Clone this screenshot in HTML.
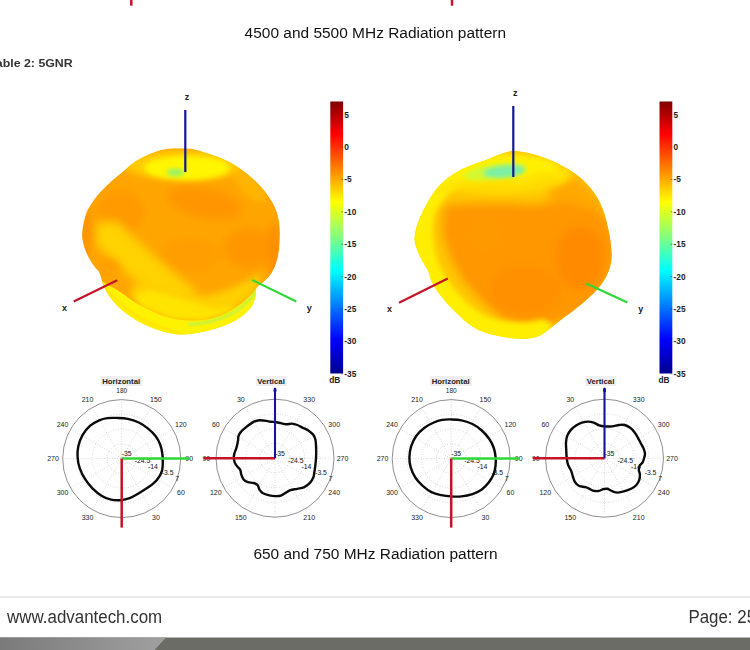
<!DOCTYPE html>
<html><head><meta charset="utf-8"><style>
html,body{margin:0;padding:0;background:#fff;}
body{width:750px;height:650px;overflow:hidden;position:relative;font-family:"Liberation Sans",sans-serif;}
.t{position:absolute;white-space:nowrap;}
svg{position:absolute;left:0;top:0;}
svg text{font-family:"Liberation Sans",sans-serif;}
</style></head><body>
<svg width="750" height="650" viewBox="0 0 750 650">
<defs><linearGradient id="jet" x1="0" y1="0" x2="0" y2="1"><stop offset="0.000" stop-color="#800000"/><stop offset="0.120" stop-color="#ff0000"/><stop offset="0.370" stop-color="#ffff00"/><stop offset="0.500" stop-color="#80ff80"/><stop offset="0.620" stop-color="#00ffff"/><stop offset="0.875" stop-color="#0000ff"/><stop offset="1.000" stop-color="#00008f"/></linearGradient><filter id="b1" x="-30%" y="-30%" width="160%" height="160%"><feGaussianBlur stdDeviation="0.625"/></filter><filter id="b2" x="-30%" y="-30%" width="160%" height="160%"><feGaussianBlur stdDeviation="1.25"/></filter><filter id="b3" x="-30%" y="-30%" width="160%" height="160%"><feGaussianBlur stdDeviation="1.875"/></filter><filter id="b4" x="-30%" y="-30%" width="160%" height="160%"><feGaussianBlur stdDeviation="2.5"/></filter><filter id="b6" x="-30%" y="-30%" width="160%" height="160%"><feGaussianBlur stdDeviation="3.75"/></filter><filter id="b8" x="-30%" y="-30%" width="160%" height="160%"><feGaussianBlur stdDeviation="5.0"/></filter></defs><clipPath id="cL"><path d="M184.5 148.3 C188.7 148.5 190.6 148.5 194.8 149.4 C199.0 150.3 204.6 152.3 209.5 154.0 C214.4 155.7 219.4 157.2 224.3 159.5 C229.2 161.8 234.4 164.7 239.0 167.8 C243.6 170.9 248.0 174.5 252.0 178.0 C256.0 181.5 259.6 185.0 263.0 189.0 C266.4 193.0 269.8 197.7 272.3 202.0 C274.8 206.3 276.6 210.7 277.8 215.0 C279.0 219.3 279.4 223.1 279.7 227.8 C280.0 232.5 279.8 238.3 279.5 243.0 C279.2 247.7 278.8 251.9 278.0 255.8 C277.2 259.7 276.2 263.2 274.8 266.6 C273.4 270.0 271.4 273.6 269.4 276.3 C267.4 279.0 265.0 280.8 262.9 282.8 C260.8 284.8 257.8 285.9 256.5 288.2 C255.2 290.5 256.1 293.9 255.4 296.8 C254.7 299.7 254.0 302.5 252.2 305.4 C250.4 308.3 248.0 311.1 244.6 314.0 C241.2 316.9 236.7 320.1 231.7 322.6 C226.7 325.1 220.2 327.3 214.5 329.0 C208.8 330.7 202.9 332.1 197.2 333.0 C191.4 333.9 185.9 334.8 180.0 334.5 C174.1 334.2 167.9 332.8 162.0 331.2 C156.1 329.6 150.2 327.3 144.8 324.8 C139.4 322.3 134.4 319.2 129.7 316.0 C125.0 312.8 120.4 309.0 116.8 305.4 C113.2 301.8 110.5 298.2 108.2 294.6 C105.9 291.0 104.2 287.4 102.8 283.8 C101.3 280.2 100.9 275.9 99.5 273.0 C98.1 270.1 96.2 269.5 94.2 266.6 C92.2 263.7 89.5 259.7 87.7 255.8 C85.9 251.9 84.1 247.0 83.2 243.0 C82.3 239.0 81.9 236.7 82.3 232.0 C82.7 227.3 84.2 219.6 85.7 214.9 C87.2 210.2 88.9 207.5 91.2 203.8 C93.5 200.1 96.3 196.5 99.5 192.8 C102.7 189.1 106.9 185.1 110.6 181.7 C114.3 178.3 118.0 175.6 121.7 172.5 C125.4 169.4 129.1 165.8 132.8 163.2 C136.5 160.6 139.8 158.8 143.8 156.8 C147.8 154.8 152.5 152.6 156.8 151.2 C161.1 149.8 165.1 149.0 169.7 148.5 C174.3 148.0 180.3 148.2 184.5 148.3Z"/></clipPath><g clip-path="url(#cL)"><path d="M184.5 148.3 C188.7 148.5 190.6 148.5 194.8 149.4 C199.0 150.3 204.6 152.3 209.5 154.0 C214.4 155.7 219.4 157.2 224.3 159.5 C229.2 161.8 234.4 164.7 239.0 167.8 C243.6 170.9 248.0 174.5 252.0 178.0 C256.0 181.5 259.6 185.0 263.0 189.0 C266.4 193.0 269.8 197.7 272.3 202.0 C274.8 206.3 276.6 210.7 277.8 215.0 C279.0 219.3 279.4 223.1 279.7 227.8 C280.0 232.5 279.8 238.3 279.5 243.0 C279.2 247.7 278.8 251.9 278.0 255.8 C277.2 259.7 276.2 263.2 274.8 266.6 C273.4 270.0 271.4 273.6 269.4 276.3 C267.4 279.0 265.0 280.8 262.9 282.8 C260.8 284.8 257.8 285.9 256.5 288.2 C255.2 290.5 256.1 293.9 255.4 296.8 C254.7 299.7 254.0 302.5 252.2 305.4 C250.4 308.3 248.0 311.1 244.6 314.0 C241.2 316.9 236.7 320.1 231.7 322.6 C226.7 325.1 220.2 327.3 214.5 329.0 C208.8 330.7 202.9 332.1 197.2 333.0 C191.4 333.9 185.9 334.8 180.0 334.5 C174.1 334.2 167.9 332.8 162.0 331.2 C156.1 329.6 150.2 327.3 144.8 324.8 C139.4 322.3 134.4 319.2 129.7 316.0 C125.0 312.8 120.4 309.0 116.8 305.4 C113.2 301.8 110.5 298.2 108.2 294.6 C105.9 291.0 104.2 287.4 102.8 283.8 C101.3 280.2 100.9 275.9 99.5 273.0 C98.1 270.1 96.2 269.5 94.2 266.6 C92.2 263.7 89.5 259.7 87.7 255.8 C85.9 251.9 84.1 247.0 83.2 243.0 C82.3 239.0 81.9 236.7 82.3 232.0 C82.7 227.3 84.2 219.6 85.7 214.9 C87.2 210.2 88.9 207.5 91.2 203.8 C93.5 200.1 96.3 196.5 99.5 192.8 C102.7 189.1 106.9 185.1 110.6 181.7 C114.3 178.3 118.0 175.6 121.7 172.5 C125.4 169.4 129.1 165.8 132.8 163.2 C136.5 160.6 139.8 158.8 143.8 156.8 C147.8 154.8 152.5 152.6 156.8 151.2 C161.1 149.8 165.1 149.0 169.7 148.5 C174.3 148.0 180.3 148.2 184.5 148.3Z" fill="#ffa500"/>
<g filter="url(#b8)">
 <ellipse cx="120" cy="212" rx="24" ry="22" fill="#ff9a00"/>
 <ellipse cx="205" cy="203" rx="38" ry="15" fill="#ff9500" transform="rotate(12 205 203)"/>
 <ellipse cx="250" cy="248" rx="26" ry="20" fill="#ff9600"/>
 <ellipse cx="190" cy="255" rx="30" ry="18" fill="#ff9e00"/>
</g>
<g filter="url(#b8)">
 <path d="M97 222 L117 221 Q152 256 198 292 L176 308 Q130 282 94 242Z" fill="#ffd200"/>
</g>
<g filter="url(#b6)">
 <path d="M128 294 L141.6 306.3 L172.4 318.6 L203.2 320 L227.8 312.4 L249.3 297 L258.6 284.7 L262 272 Q235 290 205 296 Q170 292 140 280Z" fill="#ffd000"/>
 <ellipse cx="274" cy="250" rx="7" ry="28" fill="#ff9000"/>
 <ellipse cx="86" cy="232" rx="6" ry="26" fill="#ff9400"/>
 <ellipse cx="186" cy="165" rx="62" ry="15" fill="#ffcc00"/>
 <ellipse cx="250" cy="185" rx="9" ry="22" fill="#ffb600" transform="rotate(-42 250 185)"/>
 <ellipse cx="108" cy="268" rx="12" ry="10" fill="#ffa000"/>
</g>
<g filter="url(#b4)">
 <path d="M135 296 L150 290 L185 300 L215 309 L240 304 L254 292 L249 297 L228 312 L203 320 L172 318.6 L141.6 306.3Z" fill="#ffe400"/>
</g>
<g filter="url(#b1)">
 <path d="M99.0 279.5 C100.3 280.3 103.8 282.7 107.0 284.5 C110.2 286.3 112.2 286.9 118.0 290.5 C123.8 294.1 132.5 301.6 141.6 306.3 C150.7 311.0 162.1 316.3 172.4 318.6 C182.7 320.9 194.0 321.0 203.2 320.0 C212.4 319.0 220.1 316.2 227.8 312.4 C235.5 308.6 244.2 301.6 249.3 297.0 C254.4 292.4 257.1 286.8 258.6 284.7 L270 300 L262 345 L90 345 L90 281Z" fill="#fff200"/>
</g>
<g filter="url(#b2)">
 <path d="M188 324.5 Q215 324 236 311 Q250 301 257.5 290" fill="none" stroke="#c6f33c" stroke-width="3.2"/>
 <path d="M102 284 Q128 320 180 333" fill="none" stroke="#ffe400" stroke-width="3"/>
</g>
<g filter="url(#b4)">
 <ellipse cx="187" cy="168" rx="43" ry="12" fill="#fff600"/>
</g>
<g filter="url(#b3)">
 <ellipse cx="175.5" cy="172.5" rx="9" ry="4" fill="#9cf264"/>
</g>
</g><clipPath id="cR"><path d="M513.0 150.7 C516.5 150.6 521.5 151.3 525.8 152.2 C530.1 153.0 534.5 154.4 538.8 155.8 C543.1 157.2 547.4 158.6 551.7 160.5 C556.0 162.4 560.3 164.6 564.6 167.0 C568.9 169.4 573.5 172.1 577.5 175.2 C581.5 178.3 585.2 181.6 588.6 185.4 C592.0 189.2 595.2 193.7 597.8 198.3 C600.4 202.9 602.6 208.1 604.3 213.0 C606.0 217.9 607.0 223.2 608.0 227.8 C609.0 232.4 609.8 236.1 610.4 240.8 C611.0 245.5 611.7 251.5 611.7 255.8 C611.7 260.1 611.2 263.0 610.2 266.6 C609.2 270.2 607.8 273.8 605.8 277.4 C603.8 281.0 601.3 284.6 598.3 288.2 C595.2 291.8 591.5 295.4 587.5 299.0 C583.5 302.6 578.9 306.3 574.6 309.7 C570.3 313.1 565.7 316.3 561.7 319.4 C557.8 322.4 554.5 325.3 550.9 328.0 C547.3 330.7 544.2 333.7 540.2 335.5 C536.2 337.3 532.0 338.4 527.2 338.8 C522.4 339.2 516.5 338.8 511.4 338.2 C506.2 337.6 501.3 336.7 496.3 335.5 C491.3 334.3 485.9 333.2 481.2 331.2 C476.5 329.2 472.2 326.6 468.3 323.7 C464.4 320.8 461.1 317.4 457.5 314.0 C453.9 310.6 450.0 306.8 446.8 303.2 C443.6 299.6 440.7 296.1 438.2 292.5 C435.7 288.9 433.3 285.1 431.7 281.7 C430.1 278.3 429.9 275.2 428.5 272.0 C427.1 268.8 424.8 265.7 423.0 262.3 C421.2 258.9 419.1 255.1 417.7 251.5 C416.3 247.9 414.9 244.4 414.6 240.8 C414.3 237.2 414.8 233.7 415.7 229.7 C416.6 225.7 418.4 221.1 420.3 216.8 C422.2 212.5 424.5 208.0 426.8 203.8 C429.1 199.6 431.6 195.3 434.2 191.8 C436.8 188.3 439.6 185.4 442.5 182.6 C445.4 179.8 448.3 177.5 451.7 175.2 C455.1 172.9 459.1 170.6 462.8 168.8 C466.5 167.0 470.1 165.6 473.8 164.2 C477.5 162.8 481.3 161.9 485.0 160.5 C488.7 159.1 492.7 157.1 496.0 155.8 C499.3 154.5 502.2 153.4 505.0 152.6 C507.8 151.8 509.5 150.8 513.0 150.7Z"/></clipPath><g clip-path="url(#cR)"><path d="M513.0 150.7 C516.5 150.6 521.5 151.3 525.8 152.2 C530.1 153.0 534.5 154.4 538.8 155.8 C543.1 157.2 547.4 158.6 551.7 160.5 C556.0 162.4 560.3 164.6 564.6 167.0 C568.9 169.4 573.5 172.1 577.5 175.2 C581.5 178.3 585.2 181.6 588.6 185.4 C592.0 189.2 595.2 193.7 597.8 198.3 C600.4 202.9 602.6 208.1 604.3 213.0 C606.0 217.9 607.0 223.2 608.0 227.8 C609.0 232.4 609.8 236.1 610.4 240.8 C611.0 245.5 611.7 251.5 611.7 255.8 C611.7 260.1 611.2 263.0 610.2 266.6 C609.2 270.2 607.8 273.8 605.8 277.4 C603.8 281.0 601.3 284.6 598.3 288.2 C595.2 291.8 591.5 295.4 587.5 299.0 C583.5 302.6 578.9 306.3 574.6 309.7 C570.3 313.1 565.7 316.3 561.7 319.4 C557.8 322.4 554.5 325.3 550.9 328.0 C547.3 330.7 544.2 333.7 540.2 335.5 C536.2 337.3 532.0 338.4 527.2 338.8 C522.4 339.2 516.5 338.8 511.4 338.2 C506.2 337.6 501.3 336.7 496.3 335.5 C491.3 334.3 485.9 333.2 481.2 331.2 C476.5 329.2 472.2 326.6 468.3 323.7 C464.4 320.8 461.1 317.4 457.5 314.0 C453.9 310.6 450.0 306.8 446.8 303.2 C443.6 299.6 440.7 296.1 438.2 292.5 C435.7 288.9 433.3 285.1 431.7 281.7 C430.1 278.3 429.9 275.2 428.5 272.0 C427.1 268.8 424.8 265.7 423.0 262.3 C421.2 258.9 419.1 255.1 417.7 251.5 C416.3 247.9 414.9 244.4 414.6 240.8 C414.3 237.2 414.8 233.7 415.7 229.7 C416.6 225.7 418.4 221.1 420.3 216.8 C422.2 212.5 424.5 208.0 426.8 203.8 C429.1 199.6 431.6 195.3 434.2 191.8 C436.8 188.3 439.6 185.4 442.5 182.6 C445.4 179.8 448.3 177.5 451.7 175.2 C455.1 172.9 459.1 170.6 462.8 168.8 C466.5 167.0 470.1 165.6 473.8 164.2 C477.5 162.8 481.3 161.9 485.0 160.5 C488.7 159.1 492.7 157.1 496.0 155.8 C499.3 154.5 502.2 153.4 505.0 152.6 C507.8 151.8 509.5 150.8 513.0 150.7Z" fill="#ffc600"/>
<g filter="url(#b8)">
 <path d="M444 205 L441.9 232.4 L450 257 L462.3 278.5 L480.8 300.1 L502.4 318.6 L527 327.8 L551.6 324.7 L576.3 314.4 L596.7 295.9 L610 272.4 L614.1 247.8 L610 226.2 L599.8 205.7 L582.4 198.5 L557.8 201.6 L533.2 204.7 L511.6 203.2 L487 203.3 L465.4 203.8Z" fill="#ff9700"/>
 <path d="M545 176 L575 176 L600 198 L612 235 L600 225 L580 205 L550 200Z" fill="#ffa800"/>
</g>
<g filter="url(#b6)">
 <path d="M454 230 L456 250 L470 280 L495 305 L527 320 L551 318 L576 308 L596 290 L608 270 L612 247 L608 226 L596 210 L560 214 L511 220 L470 226Z" fill="#ff9700"/>
</g>
<g filter="url(#b8)">
 <ellipse cx="580" cy="258" rx="24" ry="32" fill="#ff8a00"/>
 <ellipse cx="525" cy="290" rx="35" ry="24" fill="#ff9000"/>
 <ellipse cx="485" cy="235" rx="20" ry="20" fill="#ff9900"/>
</g>
<g filter="url(#b6)"><ellipse cx="500" cy="174" rx="72" ry="20" fill="#ffdc00"/></g>
<g filter="url(#b4)">
 <path d="M470 166 Q436 184 424 212 Q419 240 429 268 Q446 304 478 324 Q510 338 542 330" fill="none" stroke="#ffee00" stroke-width="21" stroke-linecap="round"/>
 <ellipse cx="503" cy="168" rx="54" ry="13" fill="#fff000"/>
 <path d="M436 192 Q480 172 520 182 Q546 170 565 176" fill="none" stroke="#ffe400" stroke-width="7"/>
</g>
<g filter="url(#b3)">
 <ellipse cx="495" cy="171.5" rx="32" ry="7.5" fill="#d4f830" transform="rotate(-8 497 171)"/>
</g>
<g filter="url(#b3)">
 <ellipse cx="504" cy="171.5" rx="21" ry="6" fill="#7cf0a4" transform="rotate(-5 504 171)"/>
</g>
</g><line x1="185.3" y1="110.0" x2="185.3" y2="172.0" stroke="#14149c" stroke-width="2.2"/><line x1="73.7" y1="301.5" x2="117.2" y2="280.2" stroke="#c41425" stroke-width="2.2"/><line x1="252.2" y1="280.0" x2="296.3" y2="301.5" stroke="#2ed838" stroke-width="2.2"/><line x1="513.3" y1="106.0" x2="513.3" y2="177.0" stroke="#14149c" stroke-width="2.2"/><line x1="399.0" y1="302.8" x2="447.8" y2="278.5" stroke="#c41425" stroke-width="2.2"/><line x1="586.2" y1="283.6" x2="627.4" y2="302.6" stroke="#2ed838" stroke-width="2.2"/><text x="186.9" y="100.3" text-anchor="middle" font-size="9" font-weight="bold" fill="#222">z</text><text x="64.4" y="311.0" text-anchor="middle" font-size="9" font-weight="bold" fill="#222">x</text><text x="309.2" y="311.0" text-anchor="middle" font-size="9" font-weight="bold" fill="#222">y</text><text x="515.2" y="95.8" text-anchor="middle" font-size="9" font-weight="bold" fill="#222">z</text><text x="389.5" y="312.0" text-anchor="middle" font-size="9" font-weight="bold" fill="#222">x</text><text x="640.7" y="312.0" text-anchor="middle" font-size="9" font-weight="bold" fill="#222">y</text><rect x="330.3" y="101.5" width="12.8" height="272" fill="url(#jet)"/><text x="344.3" y="117.6" font-size="8.3" font-weight="bold" fill="#222">5</text><line x1="341.3" y1="114.6" x2="343.1" y2="114.6" stroke="#333" stroke-width="0.5"/><text x="344.3" y="150.0" font-size="8.3" font-weight="bold" fill="#222">0</text><line x1="341.3" y1="147.0" x2="343.1" y2="147.0" stroke="#333" stroke-width="0.5"/><text x="344.3" y="182.4" font-size="8.3" font-weight="bold" fill="#222">-5</text><line x1="341.3" y1="179.4" x2="343.1" y2="179.4" stroke="#333" stroke-width="0.5"/><text x="344.3" y="214.8" font-size="8.3" font-weight="bold" fill="#222">-10</text><line x1="341.3" y1="211.8" x2="343.1" y2="211.8" stroke="#333" stroke-width="0.5"/><text x="344.3" y="247.2" font-size="8.3" font-weight="bold" fill="#222">-15</text><line x1="341.3" y1="244.2" x2="343.1" y2="244.2" stroke="#333" stroke-width="0.5"/><text x="344.3" y="279.6" font-size="8.3" font-weight="bold" fill="#222">-20</text><line x1="341.3" y1="276.6" x2="343.1" y2="276.6" stroke="#333" stroke-width="0.5"/><text x="344.3" y="312.0" font-size="8.3" font-weight="bold" fill="#222">-25</text><line x1="341.3" y1="309.0" x2="343.1" y2="309.0" stroke="#333" stroke-width="0.5"/><text x="344.3" y="344.4" font-size="8.3" font-weight="bold" fill="#222">-30</text><line x1="341.3" y1="341.4" x2="343.1" y2="341.4" stroke="#333" stroke-width="0.5"/><text x="344.3" y="376.8" font-size="8.3" font-weight="bold" fill="#222">-35</text><line x1="341.3" y1="373.8" x2="343.1" y2="373.8" stroke="#333" stroke-width="0.5"/><text x="329.3" y="383" font-size="8.3" font-weight="bold" fill="#222">dB</text><rect x="659.5" y="101.5" width="12.8" height="272" fill="url(#jet)"/><text x="673.5" y="117.6" font-size="8.3" font-weight="bold" fill="#222">5</text><line x1="670.5" y1="114.6" x2="672.3" y2="114.6" stroke="#333" stroke-width="0.5"/><text x="673.5" y="150.0" font-size="8.3" font-weight="bold" fill="#222">0</text><line x1="670.5" y1="147.0" x2="672.3" y2="147.0" stroke="#333" stroke-width="0.5"/><text x="673.5" y="182.4" font-size="8.3" font-weight="bold" fill="#222">-5</text><line x1="670.5" y1="179.4" x2="672.3" y2="179.4" stroke="#333" stroke-width="0.5"/><text x="673.5" y="214.8" font-size="8.3" font-weight="bold" fill="#222">-10</text><line x1="670.5" y1="211.8" x2="672.3" y2="211.8" stroke="#333" stroke-width="0.5"/><text x="673.5" y="247.2" font-size="8.3" font-weight="bold" fill="#222">-15</text><line x1="670.5" y1="244.2" x2="672.3" y2="244.2" stroke="#333" stroke-width="0.5"/><text x="673.5" y="279.6" font-size="8.3" font-weight="bold" fill="#222">-20</text><line x1="670.5" y1="276.6" x2="672.3" y2="276.6" stroke="#333" stroke-width="0.5"/><text x="673.5" y="312.0" font-size="8.3" font-weight="bold" fill="#222">-25</text><line x1="670.5" y1="309.0" x2="672.3" y2="309.0" stroke="#333" stroke-width="0.5"/><text x="673.5" y="344.4" font-size="8.3" font-weight="bold" fill="#222">-30</text><line x1="670.5" y1="341.4" x2="672.3" y2="341.4" stroke="#333" stroke-width="0.5"/><text x="673.5" y="376.8" font-size="8.3" font-weight="bold" fill="#222">-35</text><line x1="670.5" y1="373.8" x2="672.3" y2="373.8" stroke="#333" stroke-width="0.5"/><text x="658.5" y="383" font-size="8.3" font-weight="bold" fill="#222">dB</text><line x1="131.3" y1="0.0" x2="131.3" y2="5.7" stroke="#c41425" stroke-width="2.5"/><line x1="452.0" y1="0.0" x2="452.0" y2="5.7" stroke="#c41425" stroke-width="2.5"/><g><rect x="100.5" y="376.0" width="42" height="10" fill="#efefef"/><text x="121.2" y="383.7" text-anchor="middle" font-size="7.75" font-weight="bold" fill="#222">Horizontal</text><circle cx="121.7" cy="458.6" r="59.0" fill="#fff" stroke="#444" stroke-width="0.6"/><circle cx="121.7" cy="458.6" r="14.75" fill="none" stroke="#a8a8a8" stroke-width="0.6" stroke-dasharray="0.7 1.9"/><circle cx="121.7" cy="458.6" r="29.50" fill="none" stroke="#a8a8a8" stroke-width="0.6" stroke-dasharray="0.7 1.9"/><circle cx="121.7" cy="458.6" r="44.25" fill="none" stroke="#a8a8a8" stroke-width="0.6" stroke-dasharray="0.7 1.9"/><line x1="62.7" y1="458.6" x2="180.7" y2="458.6" stroke="#a8a8a8" stroke-width="0.6" stroke-dasharray="0.7 1.9"/><line x1="70.6" y1="429.1" x2="172.8" y2="488.1" stroke="#a8a8a8" stroke-width="0.6" stroke-dasharray="0.7 1.9"/><line x1="92.2" y1="407.5" x2="151.2" y2="509.7" stroke="#a8a8a8" stroke-width="0.6" stroke-dasharray="0.7 1.9"/><line x1="121.7" y1="399.6" x2="121.7" y2="517.6" stroke="#a8a8a8" stroke-width="0.6" stroke-dasharray="0.7 1.9"/><line x1="151.2" y1="407.5" x2="92.2" y2="509.7" stroke="#a8a8a8" stroke-width="0.6" stroke-dasharray="0.7 1.9"/><line x1="172.8" y1="429.1" x2="70.6" y2="488.1" stroke="#a8a8a8" stroke-width="0.6" stroke-dasharray="0.7 1.9"/><text x="121.7" y="393.4" text-anchor="middle" font-size="6.5" fill="#222">180</text><text x="155.9" y="401.9" text-anchor="middle" font-size="7" fill="#222">150</text><text x="180.9" y="426.9" text-anchor="middle" font-size="7" fill="#222">120</text><text x="189.2" y="461.1" text-anchor="middle" font-size="7" fill="#222">90</text><text x="180.9" y="495.3" text-anchor="middle" font-size="7" fill="#222">60</text><text x="155.9" y="520.3" text-anchor="middle" font-size="7" fill="#222">30</text><text x="87.5" y="520.3" text-anchor="middle" font-size="7" fill="#222">330</text><text x="62.5" y="495.3" text-anchor="middle" font-size="7" fill="#222">300</text><text x="53.0" y="461.1" text-anchor="middle" font-size="7" fill="#222">270</text><text x="62.5" y="426.9" text-anchor="middle" font-size="7" fill="#222">240</text><text x="87.5" y="401.9" text-anchor="middle" font-size="7" fill="#222">210</text><text x="126.7" y="456.2" text-anchor="middle" font-size="6.8" fill="#111">-35</text><text x="142.5" y="463.2" text-anchor="middle" font-size="6.8" fill="#111">-24.5</text><text x="153.0" y="469.1" text-anchor="middle" font-size="6.8" fill="#111">-14</text><text x="167.7" y="475.2" text-anchor="middle" font-size="6.8" fill="#111">-3.5</text><text x="177.3" y="481.3" text-anchor="middle" font-size="6.8" fill="#111">7</text><path d="M116.7 417.9 C120.1 418.0 124.1 418.0 127.8 418.8 C131.5 419.6 135.4 420.9 138.8 422.5 C142.2 424.1 145.3 426.4 148.1 428.6 C150.9 430.9 153.5 433.4 155.5 436.0 C157.5 438.6 159.0 441.4 160.1 444.3 C161.2 447.2 161.9 450.4 162.3 453.5 C162.8 456.6 162.9 459.9 162.8 462.8 C162.7 465.7 162.8 468.3 161.9 471.1 C161.0 473.9 159.5 476.8 157.3 479.4 C155.2 482.0 152.1 484.5 149.0 486.8 C145.9 489.1 142.0 491.3 138.8 493.2 C135.6 495.1 132.7 497.0 129.6 498.2 C126.5 499.4 123.5 499.9 120.4 500.2 C117.3 500.4 114.3 500.4 111.2 499.7 C108.1 499.0 105.0 497.9 101.9 496.0 C98.8 494.1 95.5 491.4 92.7 488.6 C89.9 485.8 87.5 482.8 85.3 479.4 C83.1 476.0 81.1 472.0 79.8 468.3 C78.5 464.6 77.8 460.9 77.6 457.2 C77.3 453.5 77.5 449.9 78.3 446.2 C79.1 442.5 80.6 438.5 82.5 435.1 C84.4 431.7 87.1 428.3 89.9 425.8 C92.7 423.3 96.3 421.6 99.2 420.3 C102.1 419.0 104.6 418.5 107.5 418.1 C110.4 417.7 113.3 417.8 116.7 417.9Z" fill="none" stroke="#0a0a0a" stroke-width="2.4" stroke-linejoin="round"/><line x1="121.7" y1="458.6" x2="190.2" y2="458.6" stroke="#2ed838" stroke-width="2.5"/><line x1="121.7" y1="458.6" x2="121.7" y2="527.6" stroke="#c41425" stroke-width="2.5"/></g><g><rect x="255.8" y="376.0" width="31" height="10" fill="#efefef"/><text x="271.0" y="383.7" text-anchor="middle" font-size="7.75" font-weight="bold" fill="#222">Vertical</text><circle cx="275.0" cy="458.2" r="59.0" fill="#fff" stroke="#444" stroke-width="0.6"/><circle cx="275.0" cy="458.2" r="14.75" fill="none" stroke="#a8a8a8" stroke-width="0.6" stroke-dasharray="0.7 1.9"/><circle cx="275.0" cy="458.2" r="29.50" fill="none" stroke="#a8a8a8" stroke-width="0.6" stroke-dasharray="0.7 1.9"/><circle cx="275.0" cy="458.2" r="44.25" fill="none" stroke="#a8a8a8" stroke-width="0.6" stroke-dasharray="0.7 1.9"/><line x1="216.0" y1="458.2" x2="334.0" y2="458.2" stroke="#a8a8a8" stroke-width="0.6" stroke-dasharray="0.7 1.9"/><line x1="223.9" y1="428.7" x2="326.1" y2="487.7" stroke="#a8a8a8" stroke-width="0.6" stroke-dasharray="0.7 1.9"/><line x1="245.5" y1="407.1" x2="304.5" y2="509.3" stroke="#a8a8a8" stroke-width="0.6" stroke-dasharray="0.7 1.9"/><line x1="275.0" y1="399.2" x2="275.0" y2="517.2" stroke="#a8a8a8" stroke-width="0.6" stroke-dasharray="0.7 1.9"/><line x1="304.5" y1="407.1" x2="245.5" y2="509.3" stroke="#a8a8a8" stroke-width="0.6" stroke-dasharray="0.7 1.9"/><line x1="326.1" y1="428.7" x2="223.9" y2="487.7" stroke="#a8a8a8" stroke-width="0.6" stroke-dasharray="0.7 1.9"/><text x="309.2" y="401.5" text-anchor="middle" font-size="7" fill="#222">330</text><text x="334.2" y="426.5" text-anchor="middle" font-size="7" fill="#222">300</text><text x="342.5" y="460.7" text-anchor="middle" font-size="7" fill="#222">270</text><text x="334.2" y="494.9" text-anchor="middle" font-size="7" fill="#222">240</text><text x="309.2" y="519.9" text-anchor="middle" font-size="7" fill="#222">210</text><text x="240.8" y="519.9" text-anchor="middle" font-size="7" fill="#222">150</text><text x="215.8" y="494.9" text-anchor="middle" font-size="7" fill="#222">120</text><text x="206.3" y="460.7" text-anchor="middle" font-size="7" fill="#222">90</text><text x="215.8" y="426.5" text-anchor="middle" font-size="7" fill="#222">60</text><text x="240.8" y="401.5" text-anchor="middle" font-size="7" fill="#222">30</text><text x="280.0" y="455.8" text-anchor="middle" font-size="6.8" fill="#111">-35</text><text x="295.8" y="462.8" text-anchor="middle" font-size="6.8" fill="#111">-24.5</text><text x="306.3" y="468.7" text-anchor="middle" font-size="6.8" fill="#111">-14</text><text x="321.0" y="474.8" text-anchor="middle" font-size="6.8" fill="#111">-3.5</text><text x="330.6" y="480.9" text-anchor="middle" font-size="6.8" fill="#111">7</text><path d="M275.2 422.0 C276.9 422.2 278.9 422.8 280.8 423.2 C282.7 423.6 284.5 424.2 286.3 424.3 C288.1 424.4 290.0 423.5 291.9 423.6 C293.8 423.7 295.6 424.3 297.4 425.0 C299.2 425.7 301.0 426.9 302.9 427.8 C304.8 428.7 306.8 429.5 308.5 430.6 C310.2 431.8 312.2 433.2 313.3 434.7 C314.4 436.2 314.9 437.4 315.4 439.6 C315.9 441.8 316.0 445.2 316.1 448.0 C316.2 450.8 316.2 453.8 316.1 456.6 C316.0 459.4 315.7 462.3 315.4 464.9 C315.1 467.4 314.8 469.8 314.4 471.9 C314.0 474.0 314.1 475.6 313.3 477.4 C312.6 479.2 311.4 481.3 309.9 482.9 C308.4 484.5 306.4 486.1 304.3 487.1 C302.2 488.1 299.7 488.3 297.4 488.8 C295.1 489.3 292.6 489.4 290.5 490.1 C288.4 490.9 286.5 492.4 284.9 493.3 C283.3 494.2 282.4 495.2 280.8 495.7 C279.2 496.2 277.1 496.2 275.2 496.1 C273.3 496.1 271.3 495.9 269.3 495.4 C267.3 494.9 264.6 494.2 263.0 493.3 C261.4 492.4 260.5 491.3 259.6 489.9 C258.7 488.5 258.6 486.2 257.5 485.0 C256.4 483.8 254.9 483.4 253.3 482.9 C251.7 482.4 249.4 482.8 247.8 482.2 C246.2 481.6 244.7 480.8 243.6 479.5 C242.5 478.2 241.9 476.2 241.3 474.6 C240.7 473.0 241.1 471.4 240.2 469.8 C239.3 468.2 237.1 466.6 236.0 464.9 C234.9 463.2 234.2 461.2 233.9 459.4 C233.6 457.6 233.8 456.0 234.3 453.9 C234.8 451.8 236.1 449.2 236.7 446.9 C237.3 444.6 237.8 441.8 238.1 440.0 C238.4 438.2 237.9 437.7 238.4 436.3 C238.9 434.9 239.5 433.5 240.9 431.9 C242.3 430.2 244.9 428.1 247.1 426.4 C249.3 424.7 251.9 422.6 254.0 421.6 C256.1 420.6 257.5 420.3 259.6 420.2 C261.7 420.1 264.7 420.6 266.5 420.9 C268.3 421.2 269.1 421.6 270.5 421.8 C271.9 422.0 273.5 421.8 275.2 422.0Z" fill="none" stroke="#0a0a0a" stroke-width="2.4" stroke-linejoin="round"/><line x1="275.0" y1="458.2" x2="203.5" y2="458.2" stroke="#c41425" stroke-width="2.5"/><line x1="275.0" y1="458.2" x2="275.0" y2="388.7" stroke="#14149c" stroke-width="2.1"/><ellipse cx="275.0" cy="390.3" rx="1.5" ry="2.8" fill="#14149c"/></g><g><rect x="430.0" y="376.0" width="42" height="10" fill="#efefef"/><text x="450.7" y="383.7" text-anchor="middle" font-size="7.75" font-weight="bold" fill="#222">Horizontal</text><circle cx="451.2" cy="458.6" r="59.0" fill="#fff" stroke="#444" stroke-width="0.6"/><circle cx="451.2" cy="458.6" r="14.75" fill="none" stroke="#a8a8a8" stroke-width="0.6" stroke-dasharray="0.7 1.9"/><circle cx="451.2" cy="458.6" r="29.50" fill="none" stroke="#a8a8a8" stroke-width="0.6" stroke-dasharray="0.7 1.9"/><circle cx="451.2" cy="458.6" r="44.25" fill="none" stroke="#a8a8a8" stroke-width="0.6" stroke-dasharray="0.7 1.9"/><line x1="392.2" y1="458.6" x2="510.2" y2="458.6" stroke="#a8a8a8" stroke-width="0.6" stroke-dasharray="0.7 1.9"/><line x1="400.1" y1="429.1" x2="502.3" y2="488.1" stroke="#a8a8a8" stroke-width="0.6" stroke-dasharray="0.7 1.9"/><line x1="421.7" y1="407.5" x2="480.7" y2="509.7" stroke="#a8a8a8" stroke-width="0.6" stroke-dasharray="0.7 1.9"/><line x1="451.2" y1="399.6" x2="451.2" y2="517.6" stroke="#a8a8a8" stroke-width="0.6" stroke-dasharray="0.7 1.9"/><line x1="480.7" y1="407.5" x2="421.7" y2="509.7" stroke="#a8a8a8" stroke-width="0.6" stroke-dasharray="0.7 1.9"/><line x1="502.3" y1="429.1" x2="400.1" y2="488.1" stroke="#a8a8a8" stroke-width="0.6" stroke-dasharray="0.7 1.9"/><text x="451.2" y="393.4" text-anchor="middle" font-size="6.5" fill="#222">180</text><text x="485.4" y="401.9" text-anchor="middle" font-size="7" fill="#222">150</text><text x="510.4" y="426.9" text-anchor="middle" font-size="7" fill="#222">120</text><text x="518.7" y="461.1" text-anchor="middle" font-size="7" fill="#222">90</text><text x="510.4" y="495.3" text-anchor="middle" font-size="7" fill="#222">60</text><text x="485.4" y="520.3" text-anchor="middle" font-size="7" fill="#222">30</text><text x="417.0" y="520.3" text-anchor="middle" font-size="7" fill="#222">330</text><text x="392.0" y="495.3" text-anchor="middle" font-size="7" fill="#222">300</text><text x="382.5" y="461.1" text-anchor="middle" font-size="7" fill="#222">270</text><text x="392.0" y="426.9" text-anchor="middle" font-size="7" fill="#222">240</text><text x="417.0" y="401.9" text-anchor="middle" font-size="7" fill="#222">210</text><text x="456.2" y="456.2" text-anchor="middle" font-size="6.8" fill="#111">-35</text><text x="472.0" y="463.2" text-anchor="middle" font-size="6.8" fill="#111">-24.5</text><text x="482.5" y="469.1" text-anchor="middle" font-size="6.8" fill="#111">-14</text><text x="497.2" y="475.2" text-anchor="middle" font-size="6.8" fill="#111">-3.5</text><text x="506.8" y="481.3" text-anchor="middle" font-size="6.8" fill="#111">7</text><path d="M450.4 419.4 C453.6 419.5 457.8 419.5 461.5 420.3 C465.2 421.1 469.1 422.3 472.5 424.0 C475.9 425.7 479.0 428.0 481.8 430.5 C484.6 433.0 487.1 435.9 489.1 438.8 C491.1 441.7 492.7 444.9 493.8 448.0 C494.9 451.1 495.3 454.3 495.6 457.2 C495.9 460.1 495.9 462.7 495.6 465.5 C495.3 468.3 494.9 471.0 493.8 473.8 C492.7 476.6 491.1 479.5 489.1 482.1 C487.1 484.7 484.6 487.5 481.8 489.5 C479.0 491.5 475.9 493.0 472.5 494.1 C469.1 495.2 465.1 496.0 461.5 496.4 C457.9 496.8 454.3 496.6 450.9 496.4 C447.5 496.2 444.4 495.8 441.2 495.1 C438.0 494.4 435.0 493.9 431.9 492.3 C428.8 490.8 425.5 488.3 422.7 485.8 C419.9 483.3 417.3 480.6 415.3 477.5 C413.3 474.4 411.7 470.8 410.7 467.4 C409.7 464.0 409.3 460.7 409.4 457.2 C409.5 453.7 410.1 449.7 411.2 446.2 C412.3 442.7 414.0 439.1 416.2 436.0 C418.4 432.9 421.6 429.9 424.5 427.7 C427.4 425.4 430.9 423.8 433.8 422.5 C436.7 421.2 439.3 420.4 442.1 419.9 C444.9 419.4 447.2 419.3 450.4 419.4Z" fill="none" stroke="#0a0a0a" stroke-width="2.4" stroke-linejoin="round"/><line x1="451.2" y1="458.6" x2="519.7" y2="458.6" stroke="#2ed838" stroke-width="2.5"/><line x1="451.2" y1="458.6" x2="451.2" y2="527.6" stroke="#c41425" stroke-width="2.5"/></g><g><rect x="585.3" y="376.0" width="31" height="10" fill="#efefef"/><text x="600.5" y="383.7" text-anchor="middle" font-size="7.75" font-weight="bold" fill="#222">Vertical</text><circle cx="604.5" cy="458.2" r="59.0" fill="#fff" stroke="#444" stroke-width="0.6"/><circle cx="604.5" cy="458.2" r="14.75" fill="none" stroke="#a8a8a8" stroke-width="0.6" stroke-dasharray="0.7 1.9"/><circle cx="604.5" cy="458.2" r="29.50" fill="none" stroke="#a8a8a8" stroke-width="0.6" stroke-dasharray="0.7 1.9"/><circle cx="604.5" cy="458.2" r="44.25" fill="none" stroke="#a8a8a8" stroke-width="0.6" stroke-dasharray="0.7 1.9"/><line x1="545.5" y1="458.2" x2="663.5" y2="458.2" stroke="#a8a8a8" stroke-width="0.6" stroke-dasharray="0.7 1.9"/><line x1="553.4" y1="428.7" x2="655.6" y2="487.7" stroke="#a8a8a8" stroke-width="0.6" stroke-dasharray="0.7 1.9"/><line x1="575.0" y1="407.1" x2="634.0" y2="509.3" stroke="#a8a8a8" stroke-width="0.6" stroke-dasharray="0.7 1.9"/><line x1="604.5" y1="399.2" x2="604.5" y2="517.2" stroke="#a8a8a8" stroke-width="0.6" stroke-dasharray="0.7 1.9"/><line x1="634.0" y1="407.1" x2="575.0" y2="509.3" stroke="#a8a8a8" stroke-width="0.6" stroke-dasharray="0.7 1.9"/><line x1="655.6" y1="428.7" x2="553.4" y2="487.7" stroke="#a8a8a8" stroke-width="0.6" stroke-dasharray="0.7 1.9"/><text x="638.7" y="401.5" text-anchor="middle" font-size="7" fill="#222">330</text><text x="663.7" y="426.5" text-anchor="middle" font-size="7" fill="#222">300</text><text x="672.0" y="460.7" text-anchor="middle" font-size="7" fill="#222">270</text><text x="663.7" y="494.9" text-anchor="middle" font-size="7" fill="#222">240</text><text x="638.7" y="519.9" text-anchor="middle" font-size="7" fill="#222">210</text><text x="570.3" y="519.9" text-anchor="middle" font-size="7" fill="#222">150</text><text x="545.3" y="494.9" text-anchor="middle" font-size="7" fill="#222">120</text><text x="535.8" y="460.7" text-anchor="middle" font-size="7" fill="#222">90</text><text x="545.3" y="426.5" text-anchor="middle" font-size="7" fill="#222">60</text><text x="570.3" y="401.5" text-anchor="middle" font-size="7" fill="#222">30</text><text x="609.5" y="455.8" text-anchor="middle" font-size="6.8" fill="#111">-35</text><text x="625.3" y="462.8" text-anchor="middle" font-size="6.8" fill="#111">-24.5</text><text x="635.8" y="468.7" text-anchor="middle" font-size="6.8" fill="#111">-14</text><text x="650.5" y="474.8" text-anchor="middle" font-size="6.8" fill="#111">-3.5</text><text x="660.1" y="480.9" text-anchor="middle" font-size="6.8" fill="#111">7</text><path d="M604.5 426.4 C606.6 426.6 609.8 426.6 612.2 426.4 C614.6 426.2 617.0 425.2 619.1 425.0 C621.2 424.8 622.8 424.5 624.6 425.0 C626.5 425.5 628.6 426.7 630.2 427.8 C631.8 428.9 633.0 430.3 634.3 431.9 C635.6 433.5 636.8 435.6 637.8 437.5 C638.8 439.4 639.7 441.3 640.6 443.0 C641.5 444.7 642.6 446.1 643.3 447.9 C644.0 449.6 644.9 451.7 645.0 453.5 C645.1 455.3 644.4 457.0 644.0 458.5 C643.6 460.0 643.3 461.2 642.6 462.4 C641.9 463.6 640.5 464.3 639.9 465.5 C639.3 466.7 638.8 468.3 638.8 469.8 C638.8 471.3 639.8 472.9 639.9 474.6 C640.0 476.3 639.8 478.5 639.2 480.2 C638.6 481.9 637.7 483.6 636.4 485.0 C635.1 486.4 633.6 487.5 631.6 488.5 C629.6 489.5 626.9 490.5 624.6 491.2 C622.3 491.9 619.8 492.6 617.7 492.6 C615.6 492.6 613.9 491.8 612.2 491.2 C610.5 490.6 608.8 489.1 607.3 488.8 C605.8 488.5 604.7 488.8 603.2 489.2 C601.7 489.6 600.0 490.8 598.3 491.0 C596.6 491.2 594.1 490.9 592.8 490.6 C591.4 490.3 591.4 489.8 590.2 489.2 C589.0 488.6 587.2 487.6 585.4 487.1 C583.6 486.6 580.9 486.8 579.2 486.0 C577.5 485.2 576.0 483.8 575.0 482.2 C574.0 480.6 573.5 478.5 572.9 476.7 C572.3 474.9 572.1 473.2 571.3 471.2 C570.5 469.2 568.9 467.1 568.1 464.9 C567.3 462.7 567.0 460.6 566.7 458.0 C566.4 455.4 566.3 451.6 566.2 449.0 C566.1 446.4 565.8 444.6 566.0 442.3 C566.2 440.0 566.6 437.5 567.4 435.4 C568.2 433.3 569.5 431.5 570.9 429.9 C572.3 428.3 573.9 426.9 575.7 425.7 C577.5 424.5 579.8 423.4 581.9 422.7 C584.0 422.0 586.2 421.6 588.2 421.6 C590.2 421.6 591.9 422.1 593.7 422.7 C595.6 423.3 597.5 424.8 599.3 425.4 C601.1 426.0 602.4 426.2 604.5 426.4Z" fill="none" stroke="#0a0a0a" stroke-width="2.4" stroke-linejoin="round"/><line x1="604.5" y1="458.2" x2="533.0" y2="458.2" stroke="#c41425" stroke-width="2.5"/><line x1="604.5" y1="458.2" x2="604.5" y2="388.7" stroke="#14149c" stroke-width="2.1"/><ellipse cx="604.5" cy="390.3" rx="1.5" ry="2.8" fill="#14149c"/></g>
<rect x="0" y="596.3" width="750" height="1.4" fill="#e2e2e2"/>
<rect x="0" y="637.5" width="750" height="12.5" fill="#6c6c67"/>
<linearGradient id="lg" x1="0" y1="0" x2="1" y2="0"><stop offset="0" stop-color="#7a7a7a"/><stop offset="1" stop-color="#a0a0a0"/></linearGradient>
<path d="M0 637.5 L166 637.5 L154.5 650 L0 650Z" fill="url(#lg)"/>
</svg>
<div class="t" style="left:0.3px;width:750px;text-align:center;top:23.9px;font-size:15.47px;line-height:18px;color:#111;transform:scaleY(1.005);transform-origin:50% 78%;">4500 and 5500 MHz Radiation pattern</div>
<div class="t" style="left:-10.85px;top:56.3px;font-size:12.36px;line-height:14px;font-weight:bold;color:#333;transform:scaleY(0.93);transform-origin:0 80%;">Table 2: 5GNR</div>
<div class="t" style="left:0.5px;width:750px;text-align:center;top:544.7px;font-size:15.47px;line-height:18px;color:#111;transform:scaleY(1.005);transform-origin:50% 78%;">650 and 750 MHz Radiation pattern</div>
<div class="t" style="left:7.1px;top:607.8px;font-size:16.92px;line-height:20px;color:#333;transform:scaleY(1.035);transform-origin:0 78%;">www.advantech.com</div>
<div class="t" style="left:688.4px;top:607.8px;font-size:16.92px;line-height:20px;color:#333;transform:scaleY(1.035);transform-origin:0 78%;">Page: 25</div>
</body></html>
